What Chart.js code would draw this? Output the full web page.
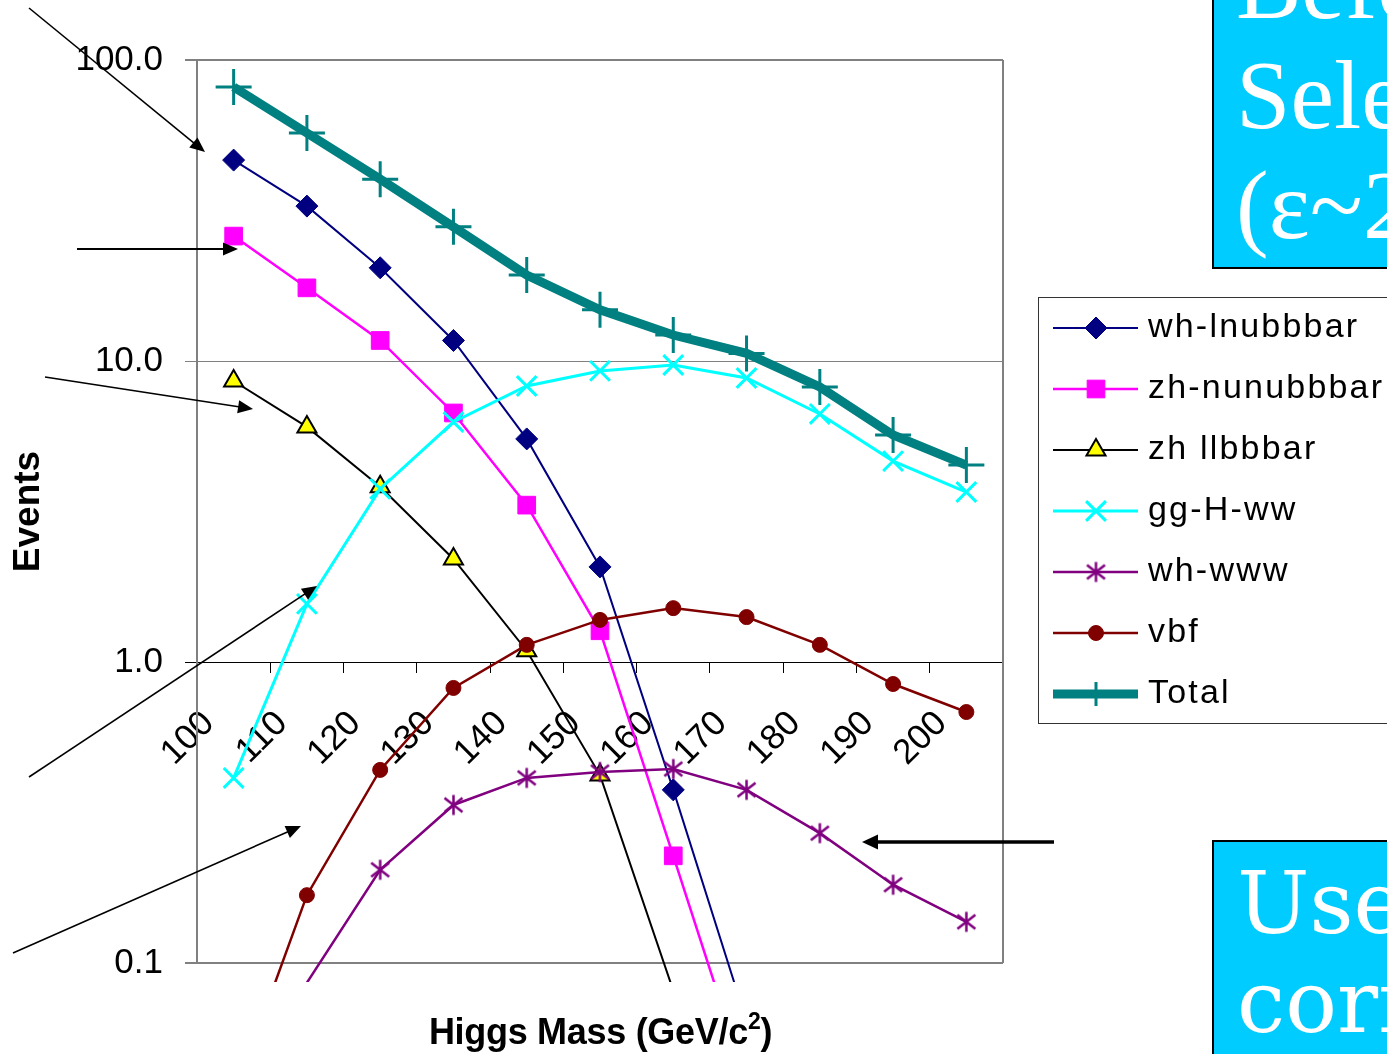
<!DOCTYPE html>
<html>
<head>
<meta charset="utf-8">
<script src="https://cdn.jsdelivr.net/npm/chart.js@4.4.1/dist/chart.umd.min.js"></script>
<style>
  html, body { margin: 0; padding: 0; background: #fff; overflow: hidden; width: 1387px; height: 1054px; }
  #wrap { position: relative; width: 1387px; height: 1054px; overflow: hidden; }
  #chart { position: absolute; left: 0; top: 0; }
  #arrows { position: absolute; left: 0; top: 0; pointer-events: none; }
  .note { position: absolute; background: #00CCFF; color: #fff; border: 2px solid #000;
          box-sizing: border-box; white-space: nowrap; overflow: hidden; }
  #noteTop { left: 1212px; top: -100px; width: 260px; height: 369px;
             font-family: "Liberation Serif", "Times New Roman", serif; font-size: 98px;
             line-height: 110px; padding: 28px 0 0 22px; }
  #noteBottom { left: 1212px; top: 840px; width: 260px; height: 300px;
                font-family: "DejaVu Serif", serif; font-size: 86px;
                line-height: 99px; padding: 12px 0 0 23px; }
  #xTitle { position: absolute; left: 0; width: 1201px; top: 1011px; text-align: center;
            font-family: "Liberation Sans", Arial, sans-serif; font-weight: bold; font-size: 36px;
            color: #000; white-space: nowrap; letter-spacing: -0.3px; }
  #xTitle sup { font-size: 23px; vertical-align: 15px; line-height: 0; }
</style>
</head>
<body>
<div id="wrap">
  <canvas id="chart" width="1387" height="1054"></canvas>
  <div id="xTitle">Higgs Mass (GeV/c<sup>2</sup>)</div>
  <div class="note" id="noteTop">Before<br>Selection<br>(ε~2</div>
  <div class="note" id="noteBottom">Use<br>corr</div>
  <svg id="arrows" width="1387" height="1054"></svg>
</div>
<script>
// Higgs mass points (GeV/c^2)
const masses = ['100', '110', '120', '130', '140', '150', '160', '170', '180', '190', '200'];

// Expected events per channel; null where the value lies far below the plotted range
const whLnubbbar  = [46.5, 32.7, 20.4, 11.7, 5.51, 2.07, 0.376, 0.064, null, null, null];
const zhNunubbbar = [26.0, 17.5, 11.7, 6.72, 3.32, 1.27, 0.227, 0.040, null, null, null];
const zhLlbbbar   = [8.58, 6.04, 3.82, 2.20, 1.09, 0.421, 0.081, null, null, null, null];
const ggHww       = [0.412, 1.56, 3.76, 6.27, 8.26, 9.27, 9.70, 8.78, 6.67, 4.65, 3.67];
const whWww       = [null, 0.086, 0.204, 0.335, 0.412, 0.431, 0.441, 0.376, 0.270, 0.182, 0.137];
const vbf         = [0.036, 0.168, 0.438, 0.820, 1.14, 1.38, 1.51, 1.41, 1.14, 0.845, 0.682];
const total       = [81.3, 57.2, 40.2, 27.9, 19.3, 14.8, 12.2, 10.6, 8.2, 5.68, 4.51];

// Log axis tick values
const yTicks = [0.1, 1, 10, 100];

const FONT = '"Liberation Sans", Arial, sans-serif';
Chart.defaults.font.family = FONT;
Chart.defaults.color = '#000';

// Asterisk marker: vertical bar plus an X
function asteriskMarker(color, half, lw) {
  const s = Math.ceil(half * 2 + lw * 2);
  const c = document.createElement('canvas');
  c.width = s; c.height = s;
  const g = c.getContext('2d');
  const m = s / 2;
  g.strokeStyle = color;
  g.lineWidth = lw;
  g.beginPath();
  g.moveTo(m, m - half); g.lineTo(m, m + half);
  g.moveTo(m - half * 0.9, m - half * 0.7); g.lineTo(m + half * 0.9, m + half * 0.7);
  g.moveTo(m - half * 0.9, m + half * 0.7); g.lineTo(m + half * 0.9, m - half * 0.7);
  g.stroke();
  return c;
}

const CLIP = { left: 12, top: 12, right: 12, bottom: 19 };

function series(label, data, color, extra) {
  return Object.assign({
    label, data,
    borderColor: color,
    backgroundColor: color,
    pointBackgroundColor: color,
    pointBorderColor: color,
    pointBorderWidth: 1,
    fill: false,
    tension: 0,
    spanGaps: false,
    clip: CLIP
  }, extra);
}

const datasets = [
  series('wh-lnubbbar', whLnubbbar, '#000080', { borderWidth: 2, pointStyle: 'rectRot', pointRadius: 11, order: 6 }),
  series('zh-nunubbbar', zhNunubbbar, '#FF00FF', { borderWidth: 2.5, pointStyle: 'rect', pointRadius: 12.5, order: 5 }),
  series('zh llbbbar', zhLlbbbar, '#000000', { borderWidth: 2, pointStyle: 'triangle', pointRadius: 11,
          pointBackgroundColor: '#FFFF00', pointBorderColor: '#000000', pointBorderWidth: 2, order: 4 }),
  series('gg-H-ww', ggHww, '#00FFFF', { borderWidth: 3, pointStyle: 'crossRot', pointRadius: 14, pointBorderWidth: 3, order: 3 }),
  series('wh-www', whWww, '#800080', { borderWidth: 2.5, pointStyle: asteriskMarker('#800080', 10, 2.5), pointRadius: 10, order: 2 }),
  series('vbf', vbf, '#800000', { borderWidth: 2.5, pointStyle: 'circle', pointRadius: 7.5, order: 1 }),
  series('Total', total, '#008080', { borderWidth: 9, pointStyle: 'cross', pointRadius: 18, pointBorderWidth: 3, order: 0 })
];

// Right edge of the plot frame
const framePlugin = {
  id: 'frame',
  beforeDatasetsDraw(chart) {
    const { ctx, chartArea } = chart;
    ctx.save();
    ctx.strokeStyle = '#808080';
    ctx.lineWidth = 2;
    ctx.beginPath();
    ctx.moveTo(chartArea.right, chartArea.top);
    ctx.lineTo(chartArea.right, chartArea.bottom);
    ctx.stroke();
    ctx.restore();
  }
};

// Boxed legend to the right of the plot
const sideLegend = {
  id: 'sideLegend',
  afterDraw(chart) {
    const ctx = chart.ctx;
    ctx.save();
    ctx.fillStyle = '#fff';
    ctx.fillRect(1038, 297, 420, 427);
    ctx.strokeStyle = '#333';
    ctx.lineWidth = 1;
    ctx.strokeRect(1038.5, 297.5, 420, 426);
    chart.data.datasets.forEach((ds, i) => {
      const y = 328 + i * 61;
      ctx.strokeStyle = ds.borderColor;
      ctx.lineWidth = ds.borderWidth;
      ctx.beginPath();
      ctx.moveTo(1053, y);
      ctx.lineTo(1138, y);
      ctx.stroke();
      ctx.fillStyle = ds.pointBackgroundColor;
      ctx.strokeStyle = ds.pointBorderColor;
      ctx.lineWidth = ds.pointBorderWidth;
      const r = ds.label === 'Total' ? 12 : ds.pointRadius;
      Chart.helpers.drawPoint(ctx, { pointStyle: ds.pointStyle, rotation: 0, radius: r, borderWidth: ds.pointBorderWidth }, 1096, y);
      ctx.fillStyle = '#000';
      ctx.font = '34px ' + FONT;
      ctx.textAlign = 'left';
      ctx.textBaseline = 'middle';
      try { ctx.letterSpacing = '2.2px'; } catch (e) {}
      ctx.fillText(ds.label, 1148, y);
      try { ctx.letterSpacing = '0px'; } catch (e) {}
    });
    ctx.restore();
  }
};

new Chart(document.getElementById('chart'), {
  type: 'line',
  data: { labels: masses, datasets },
  plugins: [framePlugin, sideLegend],
  options: {
    responsive: false,
    animation: false,
    devicePixelRatio: 1,
    layout: { padding: { left: 0, top: 60, right: 384, bottom: 91 } },
    plugins: { legend: { display: false }, tooltip: { enabled: false } },
    scales: {
      x: {
        type: 'category',
        offset: true,
        position: { y: 1 },
        border: { display: true, color: '#000', width: 1 },
        grid: { drawOnChartArea: false, offset: true, drawTicks: true, tickLength: 10, color: '#000', lineWidth: 1 },
        ticks: { autoSkip: false, minRotation: 45, maxRotation: 45, padding: 31, labelOffset: -25,
                 font: { size: 35 }, color: '#000' }
      },
      y: {
        type: 'logarithmic',
        min: 0.1,
        max: 100,
        afterBuildTicks(scale) { scale.ticks = yTicks.map(v => ({ value: v })); },
        afterFit(scale) { scale.width = 197; },
        border: { display: true, color: '#808080', width: 2 },
        grid: {
          drawTicks: true,
          tickLength: 12,
          color: c => (c.tick && c.tick.value === 1) ? '#000' : '#808080',
          lineWidth: c => (c.tick && (c.tick.value === 10 || c.tick.value === 1)) ? 1 : 2
        },
        ticks: { padding: 22, font: { size: 35 }, color: '#000',
                 callback: v => Number(v).toFixed(1) },
        title: { display: true, text: 'Events', font: { size: 37, weight: 'bold' }, color: '#000',
                 padding: { top: 7, bottom: 0 } }
      }
    }
  }
});

// Call-out arrows
const arrows = [
  [29, 8, 205, 152, 1.6],
  [77, 249, 238, 249, 2.2],
  [45, 377, 253, 409, 1.6],
  [29, 777, 317, 586, 1.6],
  [13, 953, 301, 826, 1.6],
  [1054, 842, 862, 842, 3.5]
];
const svg = document.getElementById('arrows');
const NS = 'http://www.w3.org/2000/svg';
arrows.forEach(([x1, y1, x2, y2, w]) => {
  const len = Math.hypot(x2 - x1, y2 - y1);
  const ux = (x2 - x1) / len, uy = (y2 - y1) / len;
  const hl = w > 3 ? 16 : 15, hw = w > 3 ? 7.5 : 6.5;
  const bx = x2 - ux * hl, by = y2 - uy * hl;
  const line = document.createElementNS(NS, 'line');
  line.setAttribute('x1', x1); line.setAttribute('y1', y1);
  line.setAttribute('x2', bx + ux * 2); line.setAttribute('y2', by + uy * 2);
  line.setAttribute('stroke', '#000'); line.setAttribute('stroke-width', w);
  svg.appendChild(line);
  const head = document.createElementNS(NS, 'polygon');
  head.setAttribute('points', [
    [x2, y2], [bx - uy * hw, by + ux * hw], [bx + uy * hw, by - ux * hw]
  ].map(p => p.join(',')).join(' '));
  head.setAttribute('fill', '#000');
  svg.appendChild(head);
});
</script>
</body>
</html>
